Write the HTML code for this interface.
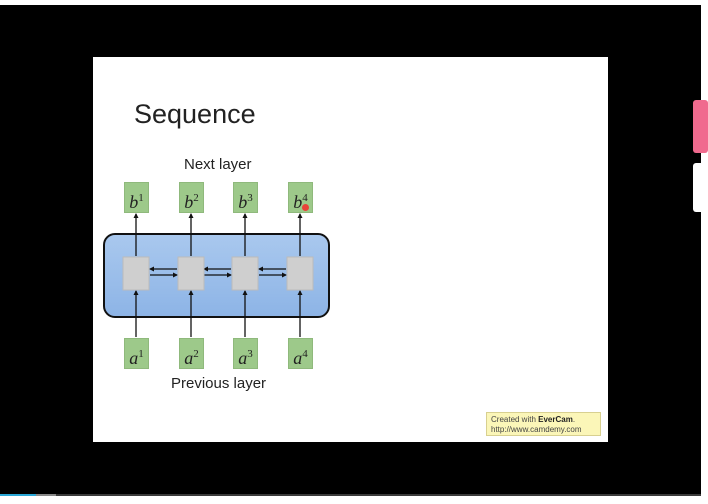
<!DOCTYPE html>
<html><head><style>
body{margin:0;width:708px;height:504px;position:relative;background:#fff;overflow:hidden;font-family:"Liberation Sans",sans-serif}
.a{position:absolute}
.g{position:absolute;width:25px;height:31px;background:#9dc98a;border:1px solid #8fb97c;box-sizing:border-box;font-family:"Liberation Serif",serif;font-style:italic;font-size:18px;text-align:center;line-height:30px;color:#222}
.g sup{font-style:normal;font-size:11px}
</style></head><body>
<div class="a" style="left:0;top:5px;width:701px;height:489px;background:#000"></div>
<div class="a" style="left:0;top:494px;width:701px;height:2px;background:#3a3a3a"></div>
<div class="a" style="left:0;top:494px;width:36px;height:2px;background:#2aa7d6"></div>
<div class="a" style="left:36px;top:494px;width:20px;height:2px;background:#888"></div>
<div class="a" style="left:693px;top:100px;width:15px;height:53px;background:#f06a8e;border-radius:3px"></div>
<div class="a" style="left:693px;top:163px;width:15px;height:49px;background:#fff;border-radius:3px"></div>
<div class="a" style="left:93px;top:57px;width:515px;height:385px;background:#fff"></div>
<div class="a" style="left:134px;top:99px;font-size:27px;color:#222">Sequence</div>
<div class="a" style="left:184px;top:156px;font-size:15px;color:#222">Next layer</div>
<div class="a" style="left:171px;top:375px;font-size:15px;color:#222">Previous layer</div>
<div class="a" style="left:103px;top:233px;width:227px;height:85px;box-sizing:border-box;border:2px solid #111;border-radius:12px;background:linear-gradient(#a9c8ee,#8db4e6)"></div>
<svg class="a" style="left:0;top:0" width="708" height="504">
<defs><marker id="m" markerWidth="5" markerHeight="5" refX="4" refY="2.5" orient="auto" markerUnits="userSpaceOnUse"><path d="M0,0L5,2.5L0,5z" fill="#111"/></marker></defs>
<g stroke="#111" stroke-width="1.3" marker-end="url(#m)">
<line x1="136" y1="256" x2="136" y2="214"/><line x1="191" y1="256" x2="191" y2="214"/><line x1="245" y1="256" x2="245" y2="214"/><line x1="300" y1="256" x2="300" y2="214"/>
<line x1="136" y1="337" x2="136" y2="291"/><line x1="191" y1="337" x2="191" y2="291"/><line x1="245" y1="337" x2="245" y2="291"/><line x1="300" y1="337" x2="300" y2="291"/>
<line x1="177" y1="269" x2="150" y2="269"/><line x1="150" y1="275" x2="177" y2="275"/>
<line x1="231" y1="269" x2="204" y2="269"/><line x1="204" y1="275" x2="231" y2="275"/>
<line x1="286" y1="269" x2="259" y2="269"/><line x1="259" y1="275" x2="286" y2="275"/>
</g>
<g fill="#cfcfcf" stroke="#bbb"><rect x="123" y="257" width="26" height="33"/><rect x="178" y="257" width="26" height="33"/><rect x="232" y="257" width="26" height="33"/><rect x="287" y="257" width="26" height="33"/></g>
</svg>
<div class="g" style="left:124px;top:182px">b<sup>1</sup></div>
<div class="g" style="left:179px;top:182px">b<sup>2</sup></div>
<div class="g" style="left:233px;top:182px">b<sup>3</sup></div>
<div class="g" style="left:288px;top:182px">b<sup>4</sup></div>
<div class="a" style="left:302px;top:204px;width:7px;height:7px;border-radius:50%;background:#e8423a"></div>
<div class="g" style="left:124px;top:338px">a<sup>1</sup></div>
<div class="g" style="left:179px;top:338px">a<sup>2</sup></div>
<div class="g" style="left:233px;top:338px">a<sup>3</sup></div>
<div class="g" style="left:288px;top:338px">a<sup>4</sup></div>
<div class="a" style="left:486px;top:412px;width:115px;height:24px;box-sizing:border-box;background:#fbf6b8;border:1px solid #d8d090;font-size:8px;line-height:10px;padding:2px 4px;color:#444">Created with <b style="color:#222">EverCam</b>.<br>http://www.camdemy.com</div>
</body></html>
